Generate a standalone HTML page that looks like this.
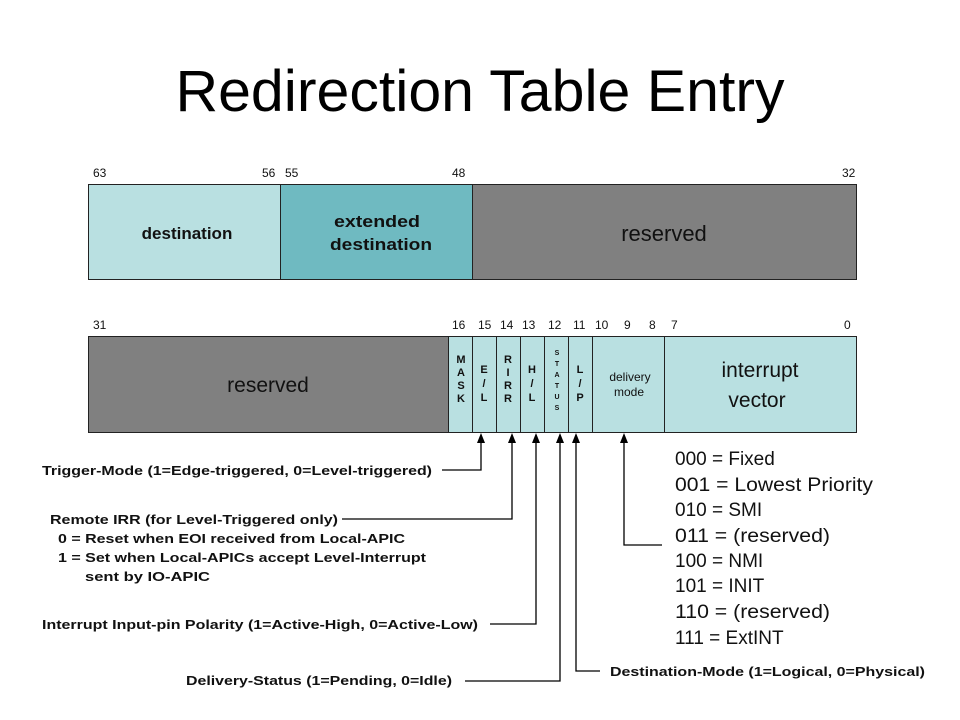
<!DOCTYPE html>
<html><head><meta charset="utf-8"><style>
html,body{margin:0;padding:0;background:#fff}
svg{display:block}
text{font-family:"Liberation Sans",Arial,sans-serif}
</style></head><body>
<svg width="960" height="720" viewBox="0 0 960 720" xmlns="http://www.w3.org/2000/svg">
<text x="480" y="111" font-size="58" text-anchor="middle" textLength="609" lengthAdjust="spacingAndGlyphs">Redirection Table Entry</text>

<g font-size="12" fill="#111">
<text x="93" y="177">63</text><text x="262" y="177">56</text><text x="285" y="177">55</text>
<text x="452" y="177">48</text><text x="842" y="177">32</text>
</g>
<rect x="88.5" y="184.5" width="192" height="95" fill="#b9e0e1" stroke="#222"/>
<rect x="280.5" y="184.5" width="192" height="95" fill="#6fbac1" stroke="#222"/>
<rect x="472.5" y="184.5" width="384" height="95" fill="#808080" stroke="#222"/>
<text x="187" y="239" font-size="17" font-weight="bold" text-anchor="middle" fill="#111">destination</text>
<text x="334" y="227" font-size="17" font-weight="bold" fill="#111" textLength="86" lengthAdjust="spacingAndGlyphs">extended</text>
<text x="330" y="250" font-size="17" font-weight="bold" fill="#111" textLength="102" lengthAdjust="spacingAndGlyphs">destination</text>
<text x="664" y="241" font-size="22" text-anchor="middle" fill="#111">reserved</text>

<g font-size="12" fill="#111">
<text x="93" y="329">31</text><text x="452" y="329">16</text><text x="478" y="329">15</text>
<text x="500" y="329">14</text><text x="522" y="329">13</text><text x="548" y="329">12</text>
<text x="573" y="329">11</text><text x="595" y="329">10</text><text x="624" y="329">9</text>
<text x="649" y="329">8</text><text x="671" y="329">7</text><text x="844" y="329">0</text>
</g>
<rect x="88.5" y="336.5" width="360" height="96" fill="#808080" stroke="#222"/>
<rect x="448.5" y="336.5" width="24" height="96" fill="#b9e0e1" stroke="#222"/>
<rect x="472.5" y="336.5" width="24" height="96" fill="#b9e0e1" stroke="#222"/>
<rect x="496.5" y="336.5" width="24" height="96" fill="#b9e0e1" stroke="#222"/>
<rect x="520.5" y="336.5" width="24" height="96" fill="#b9e0e1" stroke="#222"/>
<rect x="544.5" y="336.5" width="24" height="96" fill="#b9e0e1" stroke="#222"/>
<rect x="568.5" y="336.5" width="24" height="96" fill="#b9e0e1" stroke="#222"/>
<rect x="592.5" y="336.5" width="72" height="96" fill="#b9e0e1" stroke="#222"/>
<rect x="664.5" y="336.5" width="192" height="96" fill="#b9e0e1" stroke="#222"/>
<text x="268" y="392" font-size="21" text-anchor="middle" fill="#111">reserved</text>
<g font-size="11" font-weight="bold" text-anchor="middle" fill="#111">
<text x="461" y="363">M</text><text x="461" y="376">A</text><text x="461" y="389">S</text><text x="461" y="402">K</text>
<text x="484" y="373">E</text><text x="484" y="387">/</text><text x="484" y="401">L</text>
<text x="508" y="363">R</text><text x="508" y="376">I</text><text x="508" y="389">R</text><text x="508" y="402">R</text>
<text x="532" y="373">H</text><text x="532" y="387">/</text><text x="532" y="401">L</text>
<text x="580" y="373">L</text><text x="580" y="387">/</text><text x="580" y="401">P</text>
</g>
<g font-size="7" font-weight="bold" text-anchor="middle" fill="#111">
<text x="557" y="355">S</text><text x="557" y="366">T</text><text x="557" y="377">A</text><text x="557" y="388">T</text><text x="557" y="399">U</text><text x="557" y="410">S</text>
</g>
<text x="630" y="381" font-size="12" text-anchor="middle" fill="#111">delivery</text>
<text x="629" y="396" font-size="12" text-anchor="middle" fill="#111">mode</text>
<text x="760" y="377" font-size="21" text-anchor="middle" fill="#111">interrupt</text>
<text x="757" y="407" font-size="21" text-anchor="middle" fill="#111">vector</text>

<g stroke="#000" stroke-width="1.3" fill="none">
<path d="M442,470 H481 V440"/>
<path d="M342,519 H512 V440"/>
<path d="M490,624 H536 V440"/>
<path d="M465,681 H560 V440"/>
<path d="M600,671 H576 V440"/>
<path d="M662,545 H624 V440"/>
</g>
<g fill="#000">
<path d="M477,443 L481,433 L485,443 Z"/>
<path d="M508,443 L512,433 L516,443 Z"/>
<path d="M532,443 L536,433 L540,443 Z"/>
<path d="M556,443 L560,433 L564,443 Z"/>
<path d="M572,443 L576,433 L580,443 Z"/>
<path d="M620,443 L624,433 L628,443 Z"/>
</g>

<g font-size="13" font-weight="bold" fill="#111" lengthAdjust="spacingAndGlyphs">
<text x="42" y="475" textLength="390" lengthAdjust="spacingAndGlyphs">Trigger-Mode (1=Edge-triggered, 0=Level-triggered)</text>
<text x="50" y="524" textLength="288" lengthAdjust="spacingAndGlyphs">Remote IRR (for Level-Triggered only)</text>
<text x="58" y="543" textLength="347" lengthAdjust="spacingAndGlyphs">0 = Reset when EOI received from Local-APIC</text>
<text x="58" y="562" textLength="368" lengthAdjust="spacingAndGlyphs">1 = Set when Local-APICs accept Level-Interrupt</text>
<text x="85" y="581" textLength="125" lengthAdjust="spacingAndGlyphs">sent by IO-APIC</text>
<text x="42" y="629" textLength="436" lengthAdjust="spacingAndGlyphs">Interrupt Input-pin Polarity (1=Active-High, 0=Active-Low)</text>
<text x="186" y="685" textLength="266" lengthAdjust="spacingAndGlyphs">Delivery-Status (1=Pending, 0=Idle)</text>
<text x="610" y="676" textLength="315" lengthAdjust="spacingAndGlyphs">Destination-Mode (1=Logical, 0=Physical)</text>
</g>
<g font-size="19" fill="#111">
<text x="675" y="465">000 = Fixed</text>
<text x="675" y="491" textLength="198" lengthAdjust="spacingAndGlyphs">001 = Lowest Priority</text>
<text x="675" y="516">010 = SMI</text>
<text x="675" y="542" textLength="155" lengthAdjust="spacingAndGlyphs">011 = (reserved)</text>
<text x="675" y="567">100 = NMI</text>
<text x="675" y="592">101 = INIT</text>
<text x="675" y="618" textLength="155" lengthAdjust="spacingAndGlyphs">110 = (reserved)</text>
<text x="675" y="644">111 = ExtINT</text>
</g>
</svg>
</body></html>
